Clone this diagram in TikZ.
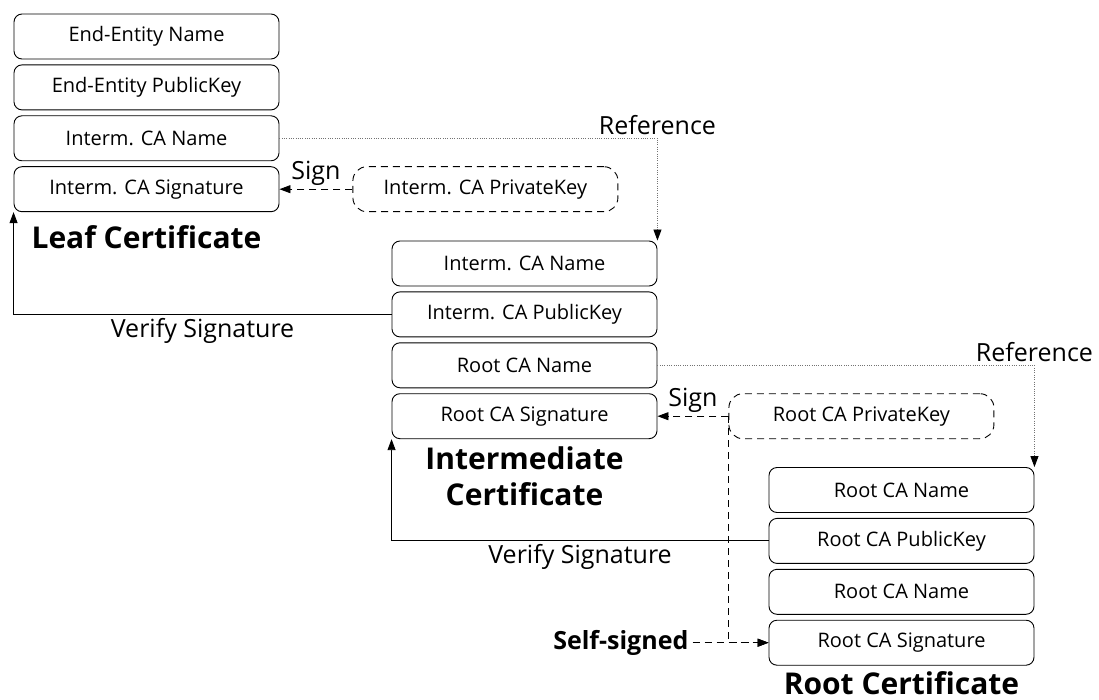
\documentclass[tikz,border=0pt]{standalone}
\usepackage{fontspec}
\setmainfont{Open Sans}
\usetikzlibrary{positioning,chains,arrows.meta}
\tikzstyle{field}   = [rectangle, draw, rounded corners=8pt, line width=0.9pt, minimum width=265pt,
                       minimum height=45pt, inner sep=0pt, font=\fontsize{20}{22}\selectfont]
\tikzstyle{privkey} = [field, dash pattern=on 7pt off 5pt, rounded corners=14pt]
\tikzstyle{caption} = [font=\fontsize{30}{36}\selectfont\bfseries, align=center, inner sep=1pt]
\tikzstyle{tip}     = [font=\fontsize{25}{28}\selectfont]
\tikzstyle{arrow}   = [line width=0.9pt, -{Triangle[length=11pt,width=8pt]}]

\begin{document}
\begin{tikzpicture}[x=1pt,y=-1pt,
			node distance=5pt,
			signline/.style={arrow, dash pattern=on 7pt off 5pt},
			refline/.style={line width=0.9pt, black!55, dash pattern=on 1pt off 1.3pt,
					-{Triangle[length=11pt,width=8pt,black]}},
			verline/.style={arrow}
		]
		\useasboundingbox (0,0) rectangle (1099,700);

		\begin{scope}[start chain=leaf going below]
			\node[field,on chain] (L1) at (146.5,36.5) {End-Entity Name};
			\node[field,on chain] (L2) {End-Entity PublicKey};
			\node[field,on chain] (L3) {Interm. CA Name};
			\node[field,on chain] (L4) {Interm. CA Signature};
		\end{scope}
		\node[caption,below=12pt of L4] (LC) {Leaf Certificate};

		\begin{scope}[start chain=inter going below]
			\node[field,on chain] (I1) at (524.5,263.5) {Interm. CA Name};
			\node[field,on chain] (I2) {Interm. CA PublicKey};
			\node[field,on chain] (I3) {Root CA Name};
			\node[field,on chain] (I4) {Root CA Signature};
		\end{scope}
		\node[caption,below=6pt of I4] (IC) {Intermediate\\Certificate};

		\begin{scope}[start chain=root going below]
			\node[field,on chain] (R1) at (901.5,490) {Root CA Name};
			\node[field,on chain] (R2) {Root CA PublicKey};
			\node[field,on chain] (R3) {Root CA Name};
			\node[field,on chain] (R4) {Root CA Signature};
		\end{scope}
		\node[caption,text depth=0pt,below=5pt of R4] (RC) {Root Certificate};

		\node[privkey,right=73pt of L4] (IK) {Interm. CA PrivateKey};
		\node[privkey,right=71pt of I4] (RK) {Root CA PrivateKey};
		\node[font=\fontsize{25}{28}\selectfont\bfseries,inner sep=4pt,left=76pt of R4] (SS) {Self-signed};

		\draw[signline] (IK) -- node[tip,above] {Sign} (L4);
		\draw[signline] (RK) -- node[tip,above] {Sign} (I4);
		\draw[signline] (RK.west) |- (R4.west);
		\draw[signline] (SS) -- (R4);

		\draw[refline] (L3.east) -| node[tip,above,pos=0.5,black] {Reference} (I1.north east);
		\draw[refline] (I3.east) -| node[tip,above,pos=0.5,black] {Reference} (R1.north east);

		\draw[verline] (I2.west) -| node[tip,below,pos=0.25] {Verify Signature} (L4.south west);
		\draw[verline] (R2.west) -| node[tip,below,pos=0.25] {Verify Signature} (I4.south west);
	\end{tikzpicture}
\end{document}
